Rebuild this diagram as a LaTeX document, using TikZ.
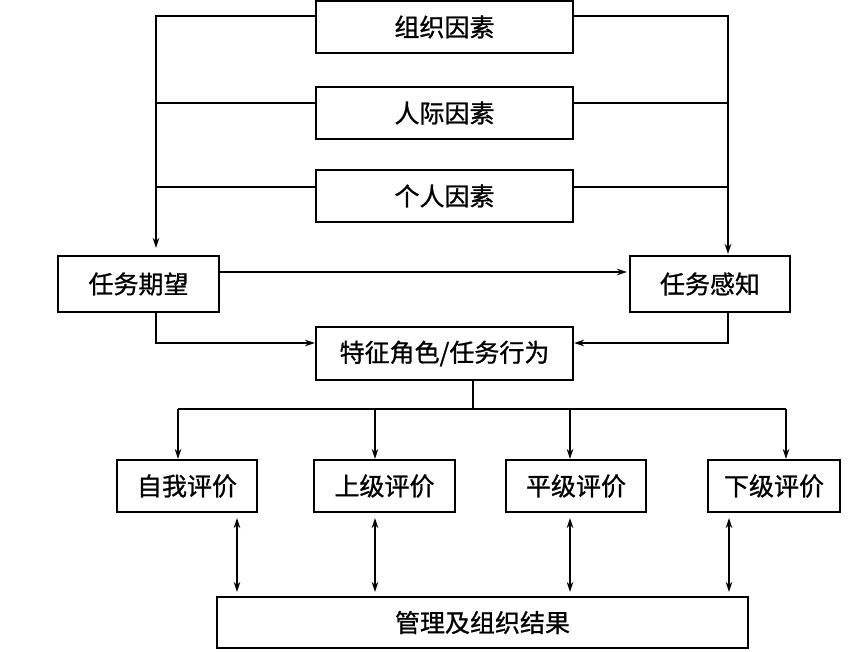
\documentclass[tikz,border=0pt]{standalone}
\usepackage{fontspec}
\setmainfont{Noto Sans CJK SC}[FakeBold=0.9]
\usetikzlibrary{arrows.meta}
\begin{document}
\begin{tikzpicture}[x=1pt,y=-1pt,
  box/.style={draw,line width=2pt,inner sep=0pt,font=\fontsize{25}{25}\selectfont},
  ln/.style={line width=1.8pt},
  arr/.style={ln,-{Stealth[length=10pt,width=6.5pt]}},
  darr/.style={ln,{Stealth[length=10pt,width=6.5pt]}-{Stealth[length=10pt,width=6.5pt]}}]
\useasboundingbox (0,0) rectangle (850,652);
\fill[white] (0,0) rectangle (850,652);
\node[box,minimum width=257pt,minimum height=52pt] (zz) at (444.5,27) {组织因素};
\node[box,minimum width=257pt,minimum height=52pt] (rj) at (444.5,113) {人际因素};
\node[box,minimum width=257pt,minimum height=52pt] (gr) at (444.5,196) {个人因素};
\node[box,minimum width=161pt,minimum height=56pt] (qw) at (138.5,284) {任务期望};
\node[box,minimum width=160pt,minimum height=56pt] (gz) at (710,284) {任务感知};
\node[box,minimum width=257pt,minimum height=53pt] (tz) at (444.5,353.5) {特征角色/任务行为};
\node[box,minimum width=140pt,minimum height=52pt] (e1) at (187,486) {自我评价};
\node[box,minimum width=141pt,minimum height=52pt] (e2) at (384.5,486) {上级评价};
\node[box,minimum width=140pt,minimum height=52pt] (e3) at (576,486) {平级评价};
\node[box,minimum width=132pt,minimum height=52pt] (e4) at (774,486) {下级评价};
\node[box,minimum width=531pt,minimum height=51pt] (gl) at (482.5,622.5) {管理及组织结果};
\coordinate (xL) at (156,0);
\coordinate (xR) at (728,0);
\coordinate (xM) at (473,0);
\coordinate (hb) at (0,409);
\coordinate (hm) at (0,343);
% factors to expectation/perception
\path ([yshift=11pt]zz.west) coordinate (a1) ([yshift=11pt]zz.east) coordinate (b1);
\path ([yshift=10pt]rj.west) coordinate (a2) ([yshift=10pt]rj.east) coordinate (b2);
\path ([yshift=9pt]gr.west) coordinate (a3) ([yshift=9pt]gr.east) coordinate (b3);
\draw[arr,shorten >=7pt] (a1) -| (xL |- qw.north);
\draw[arr,shorten >=1pt] (b1) -| (xR |- gz.north);
\draw[ln] (a2) -- (a2 -| xL);
\draw[ln] (a3) -- (a3 -| xL);
\draw[ln] (b2) -- (b2 -| xR);
\draw[ln] (b3) -- (b3 -| xR);
% expectation -> perception
\path ([yshift=12pt]qw.east) coordinate (c1);
\draw[arr,shorten >=2pt] (c1) -- (c1 -| gz.west);
% to behaviour
\draw[arr] (xL |- qw.south) |- (hm -| tz.west);
\draw[arr] (xR |- gz.south) |- (hm -| tz.east);
% behaviour to evaluations
\draw[ln] (xM |- tz.south) -- (xM |- hb);
\coordinate (d1) at (178,409);
\coordinate (d2) at (375,409);
\coordinate (d3) at (570,409);
\coordinate (d4) at (786,409);
\draw[ln] (d1) -- (d4);
\draw[arr] (d1) -- (d1 |- e1.north);
\draw[arr] (d2) -- (d2 |- e2.north);
\draw[arr] (d3) -- (d3 |- e3.north);
\draw[arr] (d4) -- (d4 |- e4.north);
% evaluations <-> outcome
\coordinate (f1) at (237,0);
\coordinate (f2) at (375,0);
\coordinate (f3) at (570,0);
\coordinate (f4) at (729,0);
\draw[darr,shorten <=5pt,shorten >=4pt] (f1 |- e1.south) -- (f1 |- gl.north);
\draw[darr,shorten <=5pt,shorten >=4pt] (f2 |- e2.south) -- (f2 |- gl.north);
\draw[darr,shorten <=5pt,shorten >=4pt] (f3 |- e3.south) -- (f3 |- gl.north);
\draw[darr,shorten <=5pt,shorten >=4pt] (f4 |- e4.south) -- (f4 |- gl.north);
\end{tikzpicture}
\end{document}
